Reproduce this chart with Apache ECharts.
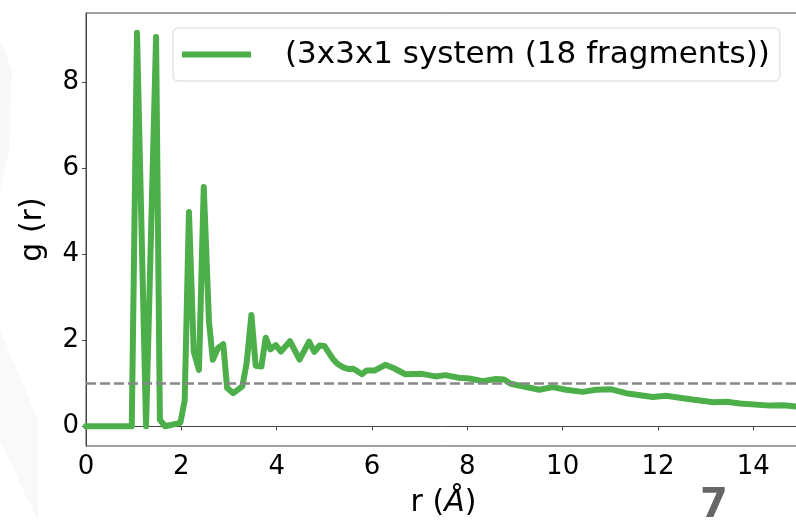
<!DOCTYPE html>
<html><head><meta charset="utf-8">
<script src="https://cdn.jsdelivr.net/npm/echarts@6/dist/echarts.min.js"></script>
<style>html,body{margin:0;padding:0;background:#fff}#c{width:796px;height:521px}</style>
</head><body><div id="c"></div>
<script>
// Data
const rValues = [0, 0.96, 1.07, 1.26, 1.47, 1.55, 1.66, 1.98, 2.07, 2.16, 2.26, 2.37, 2.47, 2.58, 2.66, 2.77, 2.88, 2.96, 3.09, 3.28, 3.37, 3.47, 3.56, 3.68, 3.77, 3.87, 3.98, 4.09, 4.28, 4.48, 4.68, 4.79, 4.90, 5.00, 5.19, 5.28, 5.40, 5.51, 5.61, 5.79, 5.89, 6.06, 6.28, 6.46, 6.70, 7.05, 7.33, 7.54, 7.82, 8.04, 8.32, 8.60, 8.77, 8.91, 9.16, 9.51, 9.79, 10.07, 10.42, 10.70, 11.02, 11.33, 11.89, 12.17, 12.60, 13.16, 13.44, 13.72, 14.35, 14.63, 15.0];
const gValues = [0, 0, 9.16, 0, 9.06, 0.15, 0, 0.08, 0.6, 4.99, 1.74, 1.31, 5.57, 2.44, 1.55, 1.82, 1.91, 0.89, 0.77, 0.93, 1.47, 2.59, 1.41, 1.39, 2.06, 1.79, 1.89, 1.74, 1.98, 1.55, 1.97, 1.73, 1.88, 1.87, 1.55, 1.45, 1.37, 1.33, 1.34, 1.21, 1.30, 1.30, 1.43, 1.35, 1.21, 1.22, 1.16, 1.19, 1.13, 1.11, 1.05, 1.10, 1.09, 0.99, 0.93, 0.85, 0.91, 0.85, 0.80, 0.85, 0.86, 0.77, 0.68, 0.71, 0.64, 0.56, 0.57, 0.53, 0.48, 0.49, 0.45];
const xTickLabels = [0, 2, 4, 6, 8, 10, 12, 14];
const yTickLabels = [0, 2, 4, 6, 8];
const referenceLevel = 1;
const seriesName = '(3x3x1 system (18 fragments))';
const pageNumber = '7';

const FONT = 'DejaVu Sans';
const chart = echarts.init(document.getElementById('c'), null, {renderer: 'canvas'});
const points = rValues.map((r, i) => [r, gValues[i]]);

chart.setOption({
  animation: false,
  backgroundColor: '#fff',
  textStyle: {fontFamily: FONT},
  grid: {left: 86, right: -5, top: 13, bottom: 75, outerBoundsMode: 'none', containLabel: false, show: true, borderColor: '#444', borderWidth: 1, backgroundColor: 'transparent'},
  legend: {
    show: true, left: 173, top: 28, icon: 'rect', itemWidth: 69, itemHeight: 6,
    backgroundColor: '#fff', borderColor: '#d6d6d6', borderWidth: 1, borderRadius: 5,
    padding: [11, 10, 11, 9],
    textStyle: {fontFamily: FONT, fontSize: 31, color: '#000', padding: [0, 0, 0, 29]},
    data: [seriesName]
  },
  graphic: [
    {type: 'polygon', z: -10, silent: true, shape: {points: [[0,40],[12,70],[9,150],[0,190]]}, style: {fill: '#f8f8f8'}},
    {type: 'polygon', z: -10, silent: true, shape: {points: [[0,330],[38,420],[38,521],[0,440]]}, style: {fill: '#f9f9f9'}},
    {type: 'text', z: 10, left: 700, top: 487, style: {text: pageNumber, fontFamily: FONT, fontWeight: 'bold', fontSize: 40, fill: '#666'}}
  ],
  xAxis: {
    type: 'value', min: 0, max: 15,
    name: '{n|r (}{i|Å}{n|)}', nameLocation: 'middle', nameGap: 42,
    nameTextStyle: {rich: {n: {fontFamily: FONT, fontSize: 30, color: '#000'}, i: {fontFamily: FONT, fontSize: 30, fontStyle: 'italic', color: '#000'}}},
    axisLine: {show: true, lineStyle: {color: '#444', width: 1}},
    axisTick: {show: true, length: 4, customValues: xTickLabels, lineStyle: {color: '#444'}},
    axisLabel: {customValues: xTickLabels, fontFamily: FONT, fontSize: 26, color: '#000', margin: 8},
    splitLine: {show: false}
  },
  yAxis: {
    type: 'value', min: -0.46, max: 9.62,
    name: 'g (r)', nameLocation: 'middle', nameGap: 38, nameRotate: 90,
    nameTextStyle: {fontFamily: FONT, fontSize: 30, color: '#000'},
    axisLine: {show: true, lineStyle: {color: '#444', width: 1}},
    axisTick: {show: true, length: 4, customValues: yTickLabels, lineStyle: {color: '#444'}},
    axisLabel: {customValues: yTickLabels, fontFamily: FONT, fontSize: 26, color: '#000', margin: 7},
    splitLine: {show: false}
  },
  series: [{
    name: seriesName, type: 'line', data: points, showSymbol: false, symbol: 'none',
    lineStyle: {color: '#4daf4a', width: 6, join: 'round', cap: 'round'},
    itemStyle: {color: '#4daf4a'},
    markLine: {
      silent: true, symbol: 'none', label: {show: false},
      lineStyle: {color: '#888', width: 2.5, type: [10, 4]},
      data: [{yAxis: referenceLevel}]
    },
    z: 3
  }]
});
</script>
</body></html>
